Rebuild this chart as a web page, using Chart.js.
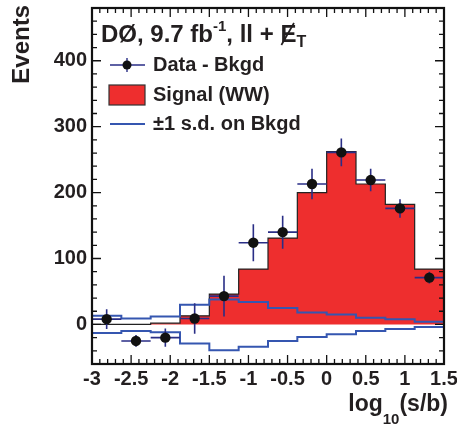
<!DOCTYPE html>
<html>
<head>
<meta charset="utf-8">
<script src="https://cdn.jsdelivr.net/npm/chart.js@4.4.0/dist/chart.umd.min.js"></script>
<style>
html, body { margin: 0; padding: 0; background: #fff; }
#wrap { width: 457px; height: 427px; }
</style>
</head>
<body>
<div id="wrap"><canvas id="histChart"></canvas></div>
<script>
// bins of log10(s/b)
const binEdges = [-3, -2.625, -2.25, -1.875, -1.5, -1.125, -0.75, -0.375, 0, 0.375, 0.75, 1.125, 1.5];
const signalWW = [0, 0, 2, 13, 46, 84, 131, 200, 262, 213, 182, 84];
const dataMinusBkgd = [8, -25, -20, 9, 43, 124, 140, 213, 261, 219, 176, 71];
const dataErr = [15, 9, 14, 23, 31, 28, 25, 23, 21, 17, 14, 9];
const bkgdUp = [13, 9, 12, 30, 38, 34, 25, 18, 15, 10, 8, 4];
const bkgdDown = [-13, -10, -12, -29, -39, -34, -25, -19, -15, -10, -7, -4];
const xTickLabels = ["-3", "-2.5", "-2", "-1.5", "-1", "-0.5", "0", "0.5", "1", "1.5"];
const yTickLabels = ["0", "100", "200", "300", "400"];

const FONT = "'Liberation Sans', Arial, Helvetica, sans-serif";
const TEXT = "#231f20";
const RED = "#ee2e2e";
const BLUE = "#3556b0";
const NAVY = "#2a2e86";

function steps(vals) {
    const pts = [];
    vals.forEach(function (v, i) {
        pts.push({ x: binEdges[i], y: v });
        pts.push({ x: binEdges[i + 1], y: v });
    });
    return pts;
}

const centers = dataMinusBkgd.map(function (v, i) {
    return { x: (binEdges[i] + binEdges[i + 1]) / 2, y: v };
});

// error bars under the markers
const errorBars = {
    id: "errorBars",
    beforeDatasetDraw: function (chart, args) {
        if (args.index !== 3) return;
        const ctx = chart.ctx, xs = chart.scales.x, ys = chart.scales.y;
        ctx.save();
        ctx.strokeStyle = NAVY;
        ctx.lineWidth = 1.6;
        dataMinusBkgd.forEach(function (v, i) {
            const xc = xs.getPixelForValue((binEdges[i] + binEdges[i + 1]) / 2);
            const yc = ys.getPixelForValue(v);
            ctx.beginPath();
            ctx.moveTo(xs.getPixelForValue(binEdges[i]), yc);
            ctx.lineTo(xs.getPixelForValue(binEdges[i + 1]), yc);
            ctx.moveTo(xc, ys.getPixelForValue(v - dataErr[i]));
            ctx.lineTo(xc, ys.getPixelForValue(v + dataErr[i]));
            ctx.stroke();
        });
        ctx.restore();
    }
};

// ROOT-style frame with inward ticks, titles and legend
const frame = {
    id: "frame",
    afterDraw: function (chart) {
        const ctx = chart.ctx, a = chart.chartArea, xs = chart.scales.x, ys = chart.scales.y;
        ctx.save();
        ctx.strokeStyle = "#111";
        ctx.lineWidth = 1.3;
        ctx.beginPath();
        for (let v = -3; v <= 1.5001; v += 0.1) {
            const px = xs.getPixelForValue(v);
            const major = Math.abs(v * 2 - Math.round(v * 2)) < 1e-6;
            const len = major ? 9 : 5;
            ctx.moveTo(px, a.bottom); ctx.lineTo(px, a.bottom - len);
            ctx.moveTo(px, a.top); ctx.lineTo(px, a.top + len);
        }
        for (let v = -60; v <= 480; v += 20) {
            const py = ys.getPixelForValue(v);
            const len = v % 100 === 0 ? 9 : 5;
            ctx.moveTo(a.left, py); ctx.lineTo(a.left + len, py);
            ctx.moveTo(a.right, py); ctx.lineTo(a.right - len, py);
        }
        ctx.stroke();
        ctx.lineWidth = 2.2;
        ctx.strokeRect(a.left, a.top, a.right - a.left, a.bottom - a.top);

        ctx.fillStyle = TEXT;
        // y title
        ctx.save();
        ctx.translate(22, 5);
        ctx.rotate(-Math.PI / 2);
        ctx.font = "bold 24px " + FONT;
        ctx.textAlign = "right";
        ctx.textBaseline = "middle";
        ctx.fillText("Events", 0, 0);
        ctx.restore();

        // x title: log10(s/b), right aligned
        ctx.textBaseline = "alphabetic";
        ctx.textAlign = "left";
        ctx.font = "bold 23px " + FONT;
        const w1 = ctx.measureText("log").width;
        const w3 = ctx.measureText("(s/b)").width;
        ctx.font = "bold 15px " + FONT;
        const w2 = ctx.measureText("10").width;
        let x0 = 448 - (w1 + w2 + w3);
        ctx.font = "bold 23px " + FONT;
        ctx.fillText("log", x0, 411);
        ctx.font = "bold 15px " + FONT;
        ctx.fillText("10", x0 + w1, 424);
        ctx.font = "bold 23px " + FONT;
        ctx.fillText("(s/b)", x0 + w1 + w2, 411);

        // header
        let hx = 101;
        const hy = 42;
        function put(txt, size, dy) {
            ctx.font = "bold " + size + "px " + FONT;
            ctx.fillText(txt, hx, hy + dy);
            const w = ctx.measureText(txt).width;
            hx += w;
            return w;
        }
        put("D\u00d8, 9.7 fb", 24, 0);
        put("-1", 15, -11);
        put(", ll + ", 24, 0);
        const ex = hx;
        const ew = put("E", 24, 0);
        ctx.strokeStyle = TEXT;
        ctx.lineWidth = 1.7;
        ctx.beginPath();
        ctx.moveTo(ex + 1, hy + 3);
        ctx.lineTo(ex + ew * 0.85, hy - 19);
        ctx.stroke();
        put("T", 16, 5);

        // legend
        ctx.strokeStyle = NAVY;
        ctx.lineWidth = 1.4;
        ctx.beginPath();
        ctx.moveTo(110, 65); ctx.lineTo(145, 65);
        ctx.moveTo(127, 58); ctx.lineTo(127, 72);
        ctx.stroke();
        ctx.fillStyle = "#111";
        ctx.beginPath();
        ctx.arc(127, 65, 4.5, 0, Math.PI * 2);
        ctx.fill();

        ctx.fillStyle = RED;
        ctx.fillRect(109, 85, 36, 20);
        ctx.strokeStyle = "#333";
        ctx.lineWidth = 1.2;
        ctx.strokeRect(109, 85, 36, 20);

        ctx.strokeStyle = BLUE;
        ctx.lineWidth = 2;
        ctx.beginPath();
        ctx.moveTo(110, 124); ctx.lineTo(145, 124);
        ctx.stroke();

        ctx.fillStyle = TEXT;
        ctx.font = "bold 20px " + FONT;
        ctx.fillText("Data - Bkgd", 153, 71);
        ctx.fillText("Signal (WW)", 153, 101);
        ctx.fillText("\u00b11 s.d. on Bkgd", 153, 130);
        ctx.restore();
    }
};

new Chart(document.getElementById("histChart"), {
    type: "scatter",
    data: {
        datasets: [{
            label: "Signal (WW)",
            data: steps(signalWW),
            order: 3,
            showLine: true,
            pointRadius: 0,
            borderColor: "#222",
            borderWidth: 1.2,
            backgroundColor: RED,
            fill: "origin"
        }, {
            label: "+1 s.d. on Bkgd",
            data: steps(bkgdUp),
            order: 2,
            showLine: true,
            pointRadius: 0,
            borderColor: BLUE,
            borderWidth: 2,
            fill: false
        }, {
            label: "-1 s.d. on Bkgd",
            data: steps(bkgdDown),
            order: 2,
            showLine: true,
            pointRadius: 0,
            borderColor: BLUE,
            borderWidth: 2,
            fill: false
        }, {
            label: "Data - Bkgd",
            data: centers,
            order: 1,
            pointRadius: 5.2,
            pointBackgroundColor: "#111",
            pointBorderWidth: 0
        }]
    },
    options: {
        responsive: true,
        maintainAspectRatio: false,
        animation: false,
        layout: { padding: { top: 8, right: 13, left: 0, bottom: 0 } },
        plugins: { legend: { display: false }, tooltip: { enabled: false } },
        scales: {
            x: {
                type: "linear",
                min: -3,
                max: 1.5,
                grid: { display: false, drawTicks: false },
                border: { display: false },
                afterBuildTicks: function (s) {
                    s.ticks = xTickLabels.map(function (l) { return { value: Number(l) }; });
                },
                afterFit: function (s) {
                    s.height = 63;
                    s.paddingLeft = 0;
                    s.paddingRight = 0;
                },
                ticks: {
                    autoSkip: false,
                    maxRotation: 0,
                    padding: 3,
                    color: TEXT,
                    font: { family: FONT, size: 20, weight: "bold" },
                    callback: function (v) { return String(v); }
                }
            },
            y: {
                min: -60,
                max: 480,
                grid: { display: false, drawTicks: false },
                border: { display: false },
                afterBuildTicks: function (s) {
                    s.ticks = yTickLabels.map(function (l) { return { value: Number(l) }; });
                },
                afterFit: function (s) {
                    s.width = 92;
                    s.paddingTop = 0;
                    s.paddingBottom = 0;
                },
                ticks: {
                    padding: 5,
                    color: TEXT,
                    font: { family: FONT, size: 20, weight: "bold" },
                    callback: function (v) { return String(v); }
                }
            }
        }
    },
    plugins: [errorBars, frame]
});
</script>
</body>
</html>
